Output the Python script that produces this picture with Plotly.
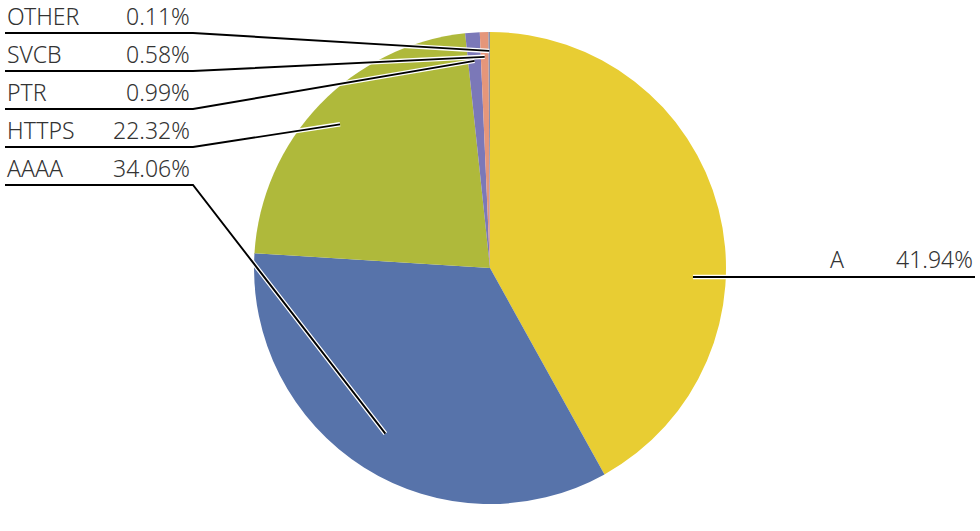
import math
import plotly.graph_objects as go

# ---- data ----
labels = ["A", "AAAA", "HTTPS", "PTR", "SVCB", "OTHER"]
values = [41.94, 34.06, 22.32, 0.99, 0.58, 0.11]
colors = ["#E8CD33", "#5773AA", "#AFB93B", "#7B78B8", "#E5967A", "#8C90A8"]

# ---- layout geometry (pixels) ----
W, H = 980, 531
CX, CY, R = 490, 268, 236
# radial position of each leader anchor, as fraction of radius
anchor_r = {"A": 0.86, "AAAA": 0.83, "HTTPS": 0.88, "PTR": 0.88, "SVCB": 0.895, "OTHER": 0.92}
left_rows = ["OTHER", "SVCB", "PTR", "HTTPS", "AAAA"]
ROW0, ROWSTEP = 33, 38
LEFT_X, PCT_X, KINK_X = 5, 192, 193
A_LINE_Y, A_TEXT_X, RIGHT_X = 277, 828, 975
FONT = dict(family="Noto Sans, sans-serif", size=23, color="#333333", weight=300)


def px(x):
    return x / W


def py(y):
    return 1 - y / H


fig = go.Figure(go.Pie(
    labels=labels, values=values, sort=False, direction="clockwise", rotation=0,
    marker=dict(colors=colors, line=dict(width=0)),
    textinfo="none", hoverinfo="label+percent", showlegend=False,
    domain=dict(x=[(CX - R) / W, (CX + R) / W], y=[(H - CY - R) / H, (H - CY + R) / H]),
))

# mid-angle of each slice (clockwise from 12 o'clock)
total = sum(values)
mid = {}
acc = 0.0
for lab, v in zip(labels, values):
    mid[lab] = (acc + v / 2) / total * 2 * math.pi
    acc += v


def anchor(lab):
    a = mid[lab]
    r = anchor_r[lab] * R
    return CX + r * math.sin(a), CY - r * math.cos(a)


shapes = []
annotations = []


def leader(points):
    path = "M " + " L ".join(f"{px(x)},{py(y)}" for x, y in points)
    shapes.append(dict(type="path", path=path, xref="paper", yref="paper",
                       line=dict(color="white", width=4.5)))
    shapes.append(dict(type="path", path=path, xref="paper", yref="paper",
                       line=dict(color="black", width=1.9)))


for i, lab in enumerate(left_rows):
    ly = ROW0 + ROWSTEP * i
    ax, ay = anchor(lab)
    leader([(LEFT_X, ly), (KINK_X, ly), (ax, ay)])
    pct = values[labels.index(lab)]
    annotations.append(dict(x=px(LEFT_X), y=py(ly - 17), xref="paper", yref="paper",
                            text=lab, showarrow=False, xanchor="left", yanchor="middle", font=FONT))
    annotations.append(dict(x=px(PCT_X), y=py(ly - 17), xref="paper", yref="paper",
                            text=f"{pct:.2f}%", showarrow=False, xanchor="right", yanchor="middle", font=FONT))

# A label on the right
ax_a = CX + anchor_r["A"] * R
leader([(ax_a, A_LINE_Y), (RIGHT_X, A_LINE_Y)])
annotations.append(dict(x=px(A_TEXT_X), y=py(A_LINE_Y - 18), xref="paper", yref="paper",
                        text="A", showarrow=False, xanchor="left", yanchor="middle", font=FONT))
annotations.append(dict(x=px(RIGHT_X), y=py(A_LINE_Y - 18), xref="paper", yref="paper",
                        text=f"{values[0]:.2f}%", showarrow=False, xanchor="right", yanchor="middle", font=FONT))

fig.update_layout(
    width=W, height=H, margin=dict(l=0, r=0, t=0, b=0),
    paper_bgcolor="white", plot_bgcolor="white",
    shapes=shapes, annotations=annotations,
)
fig.write_html("out.html", config={"displayModeBar": False},
               post_script="document.body.style.margin='0';document.body.style.overflow='hidden';")
